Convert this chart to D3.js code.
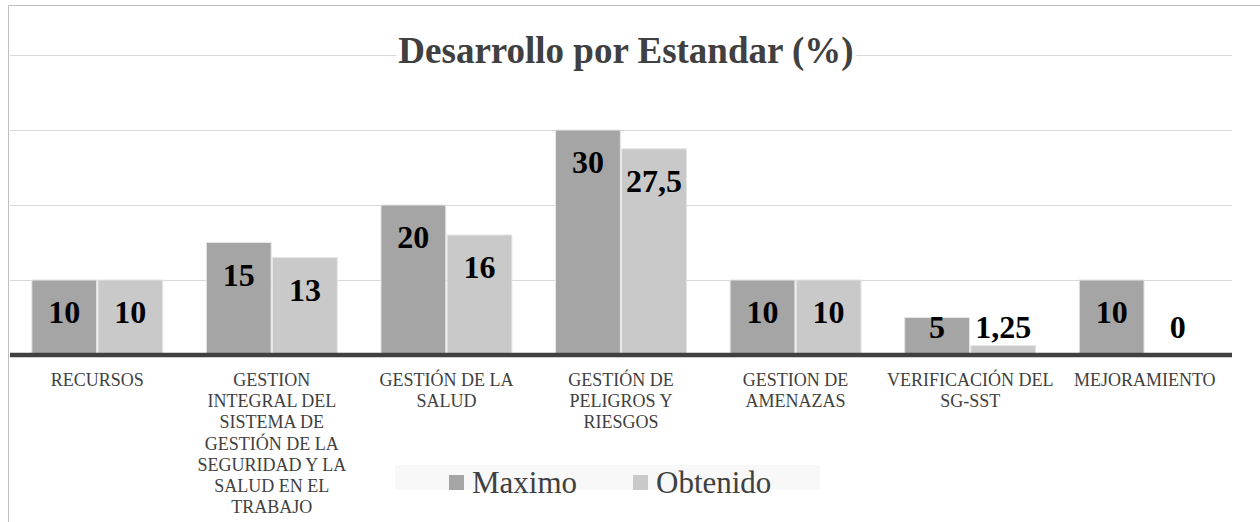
<!DOCTYPE html>
<html>
<head>
<meta charset="utf-8">
<script src="https://cdn.jsdelivr.net/npm/d3@7"></script>
<style>
  html, body { margin: 0; padding: 0; background: #fff; }
  svg { display: block; }
  text { font-family: "Liberation Serif", "Times New Roman", serif; }
</style>
</head>
<body>
<svg id="chart" width="1260" height="522"></svg>
<script>
const width = 1260;
const height = 522;

// Data
const categories = [
  "RECURSOS",
  "GESTION INTEGRAL DEL SISTEMA DE GESTIÓN DE LA SEGURIDAD Y LA SALUD EN EL TRABAJO",
  "GESTIÓN DE LA SALUD",
  "GESTIÓN DE PELIGROS Y RIESGOS",
  "GESTION DE AMENAZAS",
  "VERIFICACIÓN DEL SG-SST",
  "MEJORAMIENTO"
];
// how each category label wraps in the reference
const categoryLines = [
  ["RECURSOS"],
  ["GESTION", "INTEGRAL DEL", "SISTEMA DE", "GESTIÓN DE LA", "SEGURIDAD Y LA", "SALUD EN EL", "TRABAJO"],
  ["GESTIÓN DE LA", "SALUD"],
  ["GESTIÓN DE", "PELIGROS Y", "RIESGOS"],
  ["GESTION DE", "AMENAZAS"],
  ["VERIFICACIÓN DEL", "SG-SST"],
  ["MEJORAMIENTO"]
];
const seriesNames = ["Maximo", "Obtenido"];
const maximo = [10, 15, 20, 30, 10, 5, 10];
const obtenido = [10, 13, 16, 27.5, 10, 1.25, 0];
const gridTicks = [0, 10, 20, 30, 40];

const colors = ["#a5a5a5", "#c9c9c9"];

const svg = d3.select("#chart");

// Plot area
const x0 = 10, x1 = 1232, yBase = 355, yTop = 55;

const x = d3.scaleBand().domain(categories).range([x0, x1]).paddingInner(0.25).paddingOuter(0.125);
const xs = d3.scaleBand().domain(seriesNames).range([0, x.bandwidth()]).paddingInner(0.02);
const y = d3.scaleLinear().domain([0, 40]).range([yBase, yTop]);

// Outer frame (top and left edges visible)
svg.append("line").attr("x1", 8.5).attr("x2", width).attr("y1", 5.5).attr("y2", 5.5)
  .attr("stroke", "#bfbfbf").attr("stroke-width", 1);
svg.append("line").attr("x1", 8.5).attr("x2", 8.5).attr("y1", 5.5).attr("y2", height)
  .attr("stroke", "#bfbfbf").attr("stroke-width", 1);

// Gridlines
svg.append("g")
  .selectAll("line")
  .data(gridTicks.filter(d => d > 0))
  .join("line")
  .attr("x1", x0).attr("x2", x1)
  .attr("y1", d => Math.round(y(d)) + 0.5).attr("y2", d => Math.round(y(d)) + 0.5)
  .attr("stroke", "#d9d9d9").attr("stroke-width", 1);

// Title with white backing over the top gridline
const title = svg.append("text")
  .attr("x", 626).attr("y", 63)
  .attr("text-anchor", "middle")
  .attr("font-weight", "bold").attr("font-size", 37)
  .attr("fill", "#404040")
  .text("Desarrollo por Estandar (%)");
const tb = title.node().getBBox();
svg.insert("rect", "text").attr("x", tb.x - 2).attr("y", tb.y).attr("width", tb.width + 4).attr("height", tb.height)
  .attr("fill", "#fff");

// Bars
const rows = categories.map((c, i) => ({ cat: c, values: [maximo[i], obtenido[i]] }));
const groups = svg.append("g").selectAll("g")
  .data(rows)
  .join("g")
  .attr("transform", d => `translate(${x(d.cat)},0)`);

groups.selectAll("rect")
  .data(d => d.values.map((v, j) => ({ name: seriesNames[j], v, j })))
  .join("rect")
  .attr("x", d => xs(d.name))
  .attr("y", d => y(d.v))
  .attr("width", xs.bandwidth())
  .attr("height", d => yBase - y(d.v))
  .attr("fill", d => colors[d.j])
  .attr("stroke", "#e6e6e6").attr("stroke-width", 1);

// Baseline
svg.append("line").attr("x1", x0).attr("x2", x1).attr("y1", yBase).attr("y2", yBase)
  .attr("stroke", "#404040").attr("stroke-width", 4.5);

// Value labels (inside end, clamped above the baseline)
const fmt = v => String(v).replace(".", ",");
groups.selectAll("text.val")
  .data(d => d.values.map((v, j) => ({ name: seriesNames[j], v, j })))
  .join("text")
  .attr("class", "val")
  .attr("x", d => xs(d.name) + xs.bandwidth() / 2)
  .attr("y", d => Math.min(y(d.v) + 32, yBase - 28) + 11)
  .attr("text-anchor", "middle")
  .attr("font-weight", "bold").attr("font-size", 32)
  .attr("fill", "#000")
  .text(d => fmt(d.v));

// Category labels
const catG = svg.append("g").selectAll("text")
  .data(categories)
  .join("text")
  .attr("text-anchor", "middle")
  .attr("font-size", 18)
  .attr("fill", "#404040");
catG.each(function (c, i) {
  d3.select(this).selectAll("tspan")
    .data(categoryLines[i])
    .join("tspan")
    .attr("x", x(c) + x.bandwidth() / 2)
    .attr("y", (d, k) => 386 + k * 21.2)
    .text(d => d);
});

// Legend
svg.append("rect").attr("x", 395).attr("y", 465).attr("width", 425).attr("height", 25).attr("fill", "#f8f8f8");
const legendX = [449, 633];
const leg = svg.append("g").selectAll("g")
  .data(seriesNames)
  .join("g")
  .attr("transform", (d, i) => `translate(${legendX[i]},0)`);
leg.append("rect").attr("x", 0).attr("y", 475).attr("width", 15).attr("height", 15)
  .attr("fill", (d, i) => colors[i]);
leg.append("text").attr("x", 23).attr("y", 493)
  .attr("font-size", 31).attr("fill", "#404040")
  .text(d => d);
</script>
</body>
</html>
